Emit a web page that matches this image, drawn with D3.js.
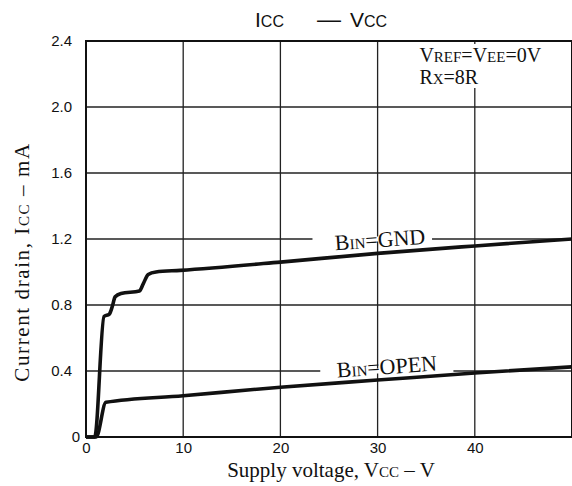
<!DOCTYPE html>
<html>
<head>
<meta charset="utf-8">
<script src="https://cdn.jsdelivr.net/npm/d3@7"></script>
<style>
  body { margin: 0; background: #fff; }
  svg { display: block; }
  .tick-label { font-family: "Liberation Sans", Arial, sans-serif; font-size: 15px; fill: #111; }
  .serif { font-family: "Liberation Serif", "Times New Roman", serif; fill: #111; }
</style>
</head>
<body>
<div id="chart"></div>
<script>
// Dữ liệu
const xTicks = [0, 10, 20, 30, 40];
const yTicks = [0, 0.4, 0.8, 1.2, 1.6, 2.0, 2.4];
const xGrid = [10, 20, 30, 40];
const yGrid = [0.4, 0.8, 1.2, 1.6, 2.0];

// B_IN = GND  [Vcc (V), Icc (mA)]
const gndCurve = [
  [0, 0], [0.9, 0], [1.85, 0.73], [2.4, 0.745], [2.7, 0.79], [3.0, 0.85],
  [3.6, 0.87], [5.5, 0.885], [5.9, 0.93], [6.4, 0.985], [7.2, 1.0], [9.7, 1.01],
  [20, 1.06], [30, 1.113], [40, 1.158], [50, 1.2]
];
// B_IN = OPEN
const openCurve = [
  [0, 0], [1.05, 0], [2.05, 0.21], [10, 0.25], [20, 0.302], [30, 0.345],
  [40, 0.388], [50, 0.425]
];

const W = 572, H = 486;
const margin = {top: 41, right: 0, bottom: 49, left: 86};
const width = W - margin.left - margin.right;
const height = H - margin.top - margin.bottom;

const svg = d3.select("#chart").append("svg")
    .attr("width", W).attr("height", H);
const g = svg.append("g").attr("transform", `translate(${margin.left},${margin.top})`);

const x = d3.scaleLinear().domain([0, 50]).range([0, width]);
const y = d3.scaleLinear().domain([0, 2.4]).range([height, 0]);

// Lưới
g.selectAll(".vgrid").data(xGrid).enter().append("line")
    .attr("x1", d => x(d)).attr("x2", d => x(d))
    .attr("y1", 0).attr("y2", height)
    .attr("stroke", "#222").attr("stroke-width", 1.3);
g.selectAll(".hgrid").data(yGrid).enter().append("line")
    .attr("x1", 0).attr("x2", width)
    .attr("y1", d => y(d)).attr("y2", d => y(d))
    .attr("stroke", "#222").attr("stroke-width", 1.3);

// Khung
g.append("rect").attr("x", 0).attr("y", 0).attr("width", width).attr("height", height)
    .attr("fill", "none").attr("stroke", "#111").attr("stroke-width", 2);

// Nền trắng của chú thích điều kiện (che lưới)
g.append("rect").attr("x", x(34)).attr("y", 3).attr("width", x(48.5) - x(34)).attr("height", 44)
    .attr("fill", "#fff");

// Ngắt lưới tại nhãn
const breaks = [{v: 1.2, a: 23.3, b: 35.6}, {v: 0.4, a: 24.1, b: 37.8}];
g.selectAll(".gap").data(breaks).enter().append("rect")
    .attr("x", d => x(d.a)).attr("width", d => x(d.b) - x(d.a))
    .attr("y", d => y(d.v) - 2.5).attr("height", 5)
    .attr("fill", "#fff");

// Trục (chỉ nhãn)
const xAxis = g.append("g").attr("transform", `translate(0,${height})`)
    .call(d3.axisBottom(x).tickValues(xTicks).tickSize(0).tickPadding(5));
const yAxis = g.append("g")
    .call(d3.axisLeft(y).tickValues(yTicks).tickSize(0).tickPadding(14)
      .tickFormat(d => d === 0 ? "0" : d.toFixed(1)));
[xAxis, yAxis].forEach(a => {
  a.select(".domain").remove();
  a.selectAll("text").attr("class", "tick-label").attr("fill", null)
    .style("font-family", null).style("font-size", null);
  a.attr("font-family", null).attr("font-size", null);
});
yAxis.selectAll(".tick").filter(d => d === 0).select("text").attr("dx", 8);

// Đường cong
const line = d3.line().x(d => x(d[0])).y(d => y(d[1])).curve(d3.curveMonotoneX);
[gndCurve, openCurve].forEach(c => {
  g.append("path").datum(c).attr("d", line)
    .attr("fill", "none").attr("stroke", "#111").attr("stroke-width", 3.6)
    .attr("stroke-linejoin", "round");
});

// Nhãn đường
function subLabel(sel, main, sub, rest) {
  sel.append("tspan").text(main);
  sel.append("tspan").attr("font-size", 15).text(sub);
  sel.append("tspan").text(rest);
}
const gndLbl = g.append("text").attr("class", "serif").attr("font-size", 22)
    .attr("text-anchor", "middle")
    .attr("transform", `translate(${x(30.3)},${y(1.2) + 8}) rotate(-4)`);
subLabel(gndLbl, "B", "IN", "=GND");
const openLbl = g.append("text").attr("class", "serif").attr("font-size", 22)
    .attr("text-anchor", "middle")
    .attr("transform", `translate(${x(31)},${y(0.4) + 3}) rotate(-4)`);
subLabel(openLbl, "B", "IN", "=OPEN");

// Điều kiện
const cond1 = g.append("text").attr("class", "serif").attr("font-size", 20)
    .attr("x", x(34.3)).attr("y", 21);
cond1.append("tspan").text("V");
cond1.append("tspan").attr("font-size", 15).text("REF");
cond1.append("tspan").text("=V");
cond1.append("tspan").attr("font-size", 15).text("EE");
cond1.append("tspan").text("=0V");
const cond2 = g.append("text").attr("class", "serif").attr("font-size", 20)
    .attr("x", x(34.3)).attr("y", 43);
cond2.append("tspan").text("R");
cond2.append("tspan").attr("font-size", 15).text("X");
cond2.append("tspan").text("=8R");

// Tiêu đề
const title = svg.append("text")
    .attr("font-family", "Liberation Sans, Arial, sans-serif").attr("font-size", 21)
    .attr("fill", "#111").attr("x", 255).attr("y", 27);
title.append("tspan").text("I");
title.append("tspan").attr("font-size", 16).text("CC");
title.append("tspan").attr("dx", 33).attr("font-size", 24).text("—");
title.append("tspan").attr("dx", 9).text("V");
title.append("tspan").attr("font-size", 16).text("CC");

// Nhãn trục
const xl = svg.append("text").attr("class", "serif").attr("font-size", 21)
    .attr("text-anchor", "middle").attr("x", 331).attr("y", 477);
xl.append("tspan").text("Supply voltage, V");
xl.append("tspan").attr("font-size", 15).text("CC");
xl.append("tspan").text(" – V");

const yl = svg.append("text").attr("class", "serif").attr("font-size", 21)
    .attr("text-anchor", "middle").attr("letter-spacing", 1.6)
    .attr("transform", "translate(29,262) rotate(-90)");
yl.append("tspan").text("Current drain, I");
yl.append("tspan").attr("font-size", 15).text("CC");
yl.append("tspan").text(" – mA");
</script>
</body>
</html>
